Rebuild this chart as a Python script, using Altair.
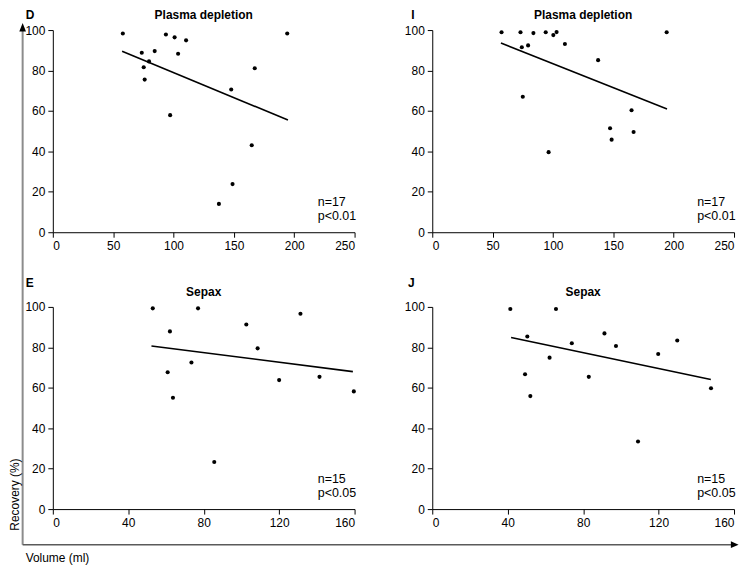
import altair as alt
import pandas as pd

FONT = "Liberation Sans"

# ---- Panel D: Plasma depletion (x 0-250)
d_vol = [58.0, 73.7, 79.7, 75.3, 76.1, 84.4, 93.7, 100.9, 103.8, 110.4, 97.2, 147.8, 148.9, 137.6, 164.8, 167.3, 194.2]
d_rec = [98.3, 88.8, 84.5, 81.6, 75.5, 89.6, 97.8, 96.4, 88.3, 94.9, 57.9, 70.6, 23.8, 14.0, 43.0, 81.1, 98.3]
d_fit_x = [57.4, 194.8]
d_fit_y = [89.5, 55.5]

# ---- Panel I: Plasma depletion (x 0-250)
i_vol = [57.4, 73.1, 74.2, 79.4, 83.8, 75.0, 94.0, 100.3, 103.0, 109.9, 96.4, 137.4, 147.3, 148.6, 165.1, 166.8, 194.2]
i_rec = [98.9, 98.9, 91.5, 92.4, 98.5, 67.0, 98.9, 97.5, 99.0, 93.1, 39.6, 85.1, 51.4, 45.8, 60.3, 49.6, 98.9]
i_fit_x = [56.9, 194.5]
i_fit_y = [93.6, 60.9]

# ---- Panel E: Sepax (x 0-160)
e_vol = [53.0, 62.1, 60.9, 63.7, 73.5, 77.0, 85.6, 102.6, 108.6, 120.0, 131.3, 141.4, 159.6]
e_rec = [99.3, 87.9, 67.7, 55.1, 72.5, 99.3, 23.3, 91.3, 79.5, 63.8, 96.6, 65.4, 58.2]
e_fit_x = [52.3, 159.1]
e_fit_y = [80.7, 68.0]

# ---- Panel J: Sepax (x 0-160)
j_vol = [41.4, 50.4, 49.2, 52.0, 62.2, 65.6, 74.0, 83.0, 91.3, 97.4, 109.1, 119.8, 129.9, 147.8]
j_rec = [99.0, 85.4, 66.7, 55.9, 74.9, 99.0, 82.0, 65.4, 86.9, 80.7, 33.4, 76.7, 83.4, 59.8]
j_fit_x = [41.8, 147.7]
j_fit_y = [84.9, 64.1]

y_ticks = [0, 20, 40, 60, 80, 100]
x_ticks_pd = [0, 50, 100, 150, 200, 250]
x_ticks_sx = [0, 40, 80, 120, 160]

titles = ["Plasma depletion", "Plasma depletion", "Sepax", "Sepax"]
letters = ["D", "I", "E", "J"]
stats = [["n=17", "p<0.01"], ["n=17", "p<0.01"], ["n=15", "p<0.05"], ["n=15", "p<0.05"]]
x_axis_label = "Volume (ml)"
y_axis_label = "Recovery (%)"

W, H = 303, 203
one = pd.DataFrame({"k": [0]})


def panel(vol, rec, fx, fy, xticks, title, letter, stat, letter_xy, extra=()):
    xs = alt.Scale(domain=[xticks[0], xticks[-1]], nice=False, zero=False)
    ys = alt.Scale(domain=[0, 100], nice=False)
    xenc = alt.X("vol:Q", scale=xs,
                 axis=alt.Axis(values=xticks, title=None, format="d"))
    yenc = alt.Y("rec:Q", scale=ys,
                 axis=alt.Axis(values=y_ticks, title=None, format="d"))
    pts = alt.Chart(pd.DataFrame({"vol": vol, "rec": rec})).mark_circle(
        size=17, color="black", opacity=1).encode(x=xenc, y=yenc)
    fit = alt.Chart(pd.DataFrame({"vol": fx, "rec": fy})).mark_line(
        color="black", strokeWidth=1.6).encode(x=xenc, y=yenc)
    ttl = alt.Chart(one).mark_text(
        font=FONT, fontSize=12, fontWeight="bold", color="black",
        align="center", baseline="alphabetic").encode(
        x=alt.value(W / 2), y=alt.value(-11), text=alt.value(title))
    let = alt.Chart(one).mark_text(
        font=FONT, fontSize=12, fontWeight="bold", color="black",
        align="left", baseline="alphabetic").encode(
        x=alt.value(letter_xy[0]), y=alt.value(letter_xy[1]), text=alt.value(letter))
    st = alt.Chart(one).mark_text(
        font=FONT, fontSize=12.5, color="black", align="left",
        baseline="alphabetic", lineHeight=14).encode(
        x=alt.value(266), y=alt.value(176.5), text=alt.value(stat))
    return alt.layer(pts, fit, ttl, let, st, *extra).properties(width=W, height=H)


# outer axis decorations (left panels)
vline = alt.Chart(one).mark_rule(color="#8c8c8c", strokeWidth=2).encode(
    x=alt.value(-30.3), y=alt.value(1.0), y2=alt.value(516.7))
varrow = alt.Chart(one).mark_point(
    shape="M0,-1L0.8,1L-0.8,1Z", size=70, filled=True, color="black", opacity=1).encode(
    x=alt.value(-30.3), y=alt.value(-2.8))

hline = alt.Chart(one).mark_rule(color="#5a5a5a", strokeWidth=1.5).encode(
    x=alt.value(-30.3), x2=alt.value(681), y=alt.value(238.7))
harrow = alt.Chart(one).mark_point(
    shape="M1,0L-1,-0.9L-1,0.9Z", size=60, filled=True, color="black", opacity=1).encode(
    x=alt.value(684.7), y=alt.value(238.7))
ylab = alt.Chart(one).mark_text(
    font=FONT, fontSize=12, color="black", angle=270, align="center",
    baseline="alphabetic").encode(
    x=alt.value(-34.3), y=alt.value(188.4), text=alt.value(y_axis_label))
xlab = alt.Chart(one).mark_text(
    font=FONT, fontSize=12, color="black", align="left",
    baseline="alphabetic").encode(
    x=alt.value(-27.3), y=alt.value(255.7), text=alt.value(x_axis_label))

pD = panel(d_vol, d_rec, d_fit_x, d_fit_y, x_ticks_pd, titles[0], letters[0], stats[0],
           (-27.3, -10.8), extra=(vline, varrow))
pI = panel(i_vol, i_rec, i_fit_x, i_fit_y, x_ticks_pd, titles[1], letters[1], stats[1],
           (-21, -10.8))
pE = panel(e_vol, e_rec, e_fit_x, e_fit_y, x_ticks_sx, titles[2], letters[2], stats[2],
           (-27.3, -20.3), extra=(hline, harrow, ylab, xlab))
pJ = panel(j_vol, j_rec, j_fit_x, j_fit_y, x_ticks_sx, titles[3], letters[3], stats[3],
           (-24.3, -20.3))

chart = alt.concat(pD, pI, pE, pJ, columns=2,
                   spacing={"row": 75, "column": 78},
                   bounds="flush").properties(
    padding={"left": 0, "top": 0, "right": 0, "bottom": 0},
    background="white",
).configure_view(stroke=None).configure_axis(
    grid=False,
    domainColor="black",
    domainWidth=1,
    tickColor="black",
    tickSize=5,
    labelColor="black",
    labelFont=FONT,
    labelFontSize=12,
    labelPadding=3,
)

chart.save("out.html", embed_options={"renderer": "svg", "actions": False})
